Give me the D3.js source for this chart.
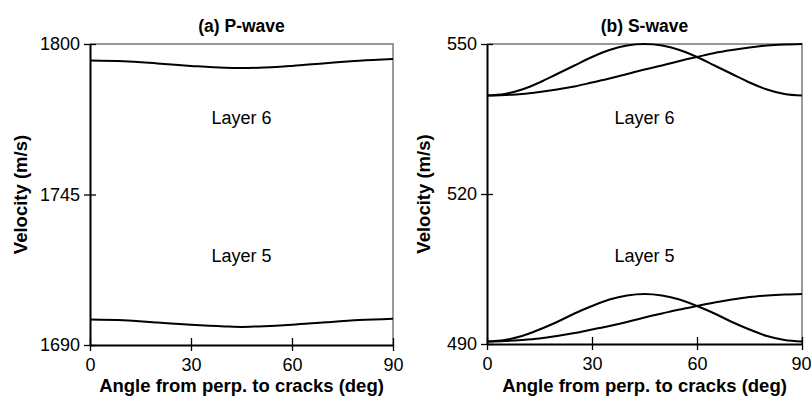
<!DOCTYPE html>
<html>
<head>
<meta charset="utf-8">
<script src="https://cdn.jsdelivr.net/npm/d3@7"></script>
<style>
  body { margin: 0; background: #fff; }
  svg { display: block; font-family: "Liberation Sans", Arial, sans-serif; }
</style>
</head>
<body>
<div id="chart"></div>
<script>
// angles (deg)
var anglesP = [0, 10, 20, 30, 40, 45, 50, 60, 70, 80, 90]
var pLayer6 = [1794.0, 1793.7, 1792.9, 1792.0, 1791.3, 1791.2, 1791.3, 1792.0, 1793.0, 1793.9, 1794.5]
var pLayer5 = [1699.3, 1699.0, 1698.2, 1697.4, 1696.8, 1696.6, 1696.8, 1697.4, 1698.3, 1699.1, 1699.6]

var anglesS = [0, 5, 10, 15, 20, 25, 30, 35, 40, 45, 50, 55, 60, 65, 70, 75, 80, 85, 90]
var sLayer6a = [539.7, 540.0, 540.9, 542.3, 544.0, 545.7, 547.4, 548.8, 549.7, 550.0, 549.7, 548.8, 547.4, 545.7, 544.0, 542.3, 540.9, 540.0, 539.7]
var sLayer6b = [539.7, 539.8, 540.0, 540.4, 540.9, 541.5, 542.3, 543.1, 544.0, 544.9, 545.7, 546.6, 547.4, 548.2, 548.8, 549.3, 549.7, 549.9, 550.0]
var sLayer5a = [490.5, 490.8, 491.6, 492.9, 494.4, 496.1, 497.6, 498.9, 499.7, 500.0, 499.7, 498.9, 497.6, 496.1, 494.4, 492.9, 491.6, 490.8, 490.5]
var sLayer5b = [490.5, 490.6, 490.8, 491.1, 491.6, 492.2, 492.9, 493.6, 494.4, 495.3, 496.1, 496.9, 497.6, 498.3, 498.9, 499.4, 499.7, 499.9, 500.0]

var xTicks = [0, 30, 60, 90]
var pTicks = [1690, 1745, 1800]
var sTicks = [490, 520, 550]

var width = 811, height = 398

var svg = d3.select("#chart").append("svg")
    .attr("width", width)
    .attr("height", height)

function drawPanel(opts) {
    var x = d3.scaleLinear().domain([0, 90]).range([opts.left, opts.right])
    var y = d3.scaleLinear().domain(opts.yDomain).range([opts.bottom, opts.top])

    var g = svg.append("g")

    // grey frame on top and right
    g.append("path")
        .attr("d", "M" + opts.left + "," + opts.top + "H" + opts.right + "V" + opts.bottom)
        .attr("fill", "none")
        .attr("stroke", "#999")
        .attr("stroke-width", 2)

    var line = d3.line()
        .x(function (d) { return x(d[0]) })
        .y(function (d) { return y(d[1]) })
        .curve(d3.curveMonotoneX)

    opts.series.forEach(function (s) {
        g.append("path")
            .datum(d3.zip(s.angles, s.values))
            .attr("d", line)
            .attr("fill", "none")
            .attr("stroke", "#000")
            .attr("stroke-width", 2)
    })

    var axisX = d3.axisBottom(x).tickValues(xTicks).tickFormat(d3.format("d")).tickSizeOuter(0)
    var axisY = d3.axisLeft(y).tickValues(opts.yTicks).tickFormat(d3.format("d")).tickSizeOuter(0)

    var gx = g.append("g")
        .attr("transform", "translate(0," + opts.bottom + ")")
        .call(axisX)
    gx.selectAll(".tick line").attr("y1", 6).attr("y2", -7)
    gx.selectAll(".tick text").attr("y", 13).attr("dy", "0.71em")
    // keep the last label inside the page
    if (opts.right + 10 > width) {
        gx.selectAll(".tick text").filter(function (d) { return d == 90 })
            .attr("dx", -(opts.right + 10 - width))
    }

    var gy = g.append("g")
        .attr("transform", "translate(" + opts.left + ",0)")
        .call(axisY)
    gy.selectAll(".tick line").attr("x1", -6).attr("x2", 6)
    gy.selectAll(".tick text").attr("x", -10)

    ;[gx, gy].forEach(function (a) {
        a.select(".domain").attr("stroke", "#000").attr("stroke-width", 2)
        a.selectAll(".tick line").attr("stroke", "#000").attr("stroke-width", 1.3)
        a.selectAll(".tick text")
            .attr("fill", "#000")
            .style("font-size", "18px")
            .style("font-family", "'Liberation Sans', Arial, sans-serif")
    })

    var cx = (opts.left + opts.right) / 2

    g.append("text")
        .attr("x", cx)
        .attr("y", 31.5)
        .attr("text-anchor", "middle")
        .style("font-size", "17.5px")
        .style("font-weight", "bold")
        .text(opts.title)

    g.append("text")
        .attr("x", cx)
        .attr("y", 391.5)
        .attr("text-anchor", "middle")
        .style("font-size", "18.5px")
        .style("font-weight", "bold")
        .text("Angle from perp. to cracks (deg)")

    g.append("text")
        .attr("transform", "translate(" + opts.yLabelX + "," + ((opts.top + opts.bottom) / 2) + ") rotate(-90)")
        .attr("text-anchor", "middle")
        .style("font-size", "18.5px")
        .style("font-weight", "bold")
        .text("Velocity (m/s)")

    opts.labels.forEach(function (l) {
        g.append("text")
            .attr("x", cx)
            .attr("y", l.y)
            .attr("text-anchor", "middle")
            .style("font-size", "18px")
            .text(l.text)
    })
}

drawPanel({
    left: 90, right: 393, top: 44, bottom: 345,
    yDomain: [1690, 1800], yTicks: pTicks,
    title: "(a) P-wave", yLabelX: 27,
    series: [
        { angles: anglesP, values: pLayer6 },
        { angles: anglesP, values: pLayer5 }
    ],
    labels: [{ text: "Layer 6", y: 124 }, { text: "Layer 5", y: 262 }]
})

drawPanel({
    left: 487, right: 802, top: 44, bottom: 344,
    yDomain: [490, 550], yTicks: sTicks,
    title: "(b) S-wave", yLabelX: 430,
    series: [
        { angles: anglesS, values: sLayer6a },
        { angles: anglesS, values: sLayer6b },
        { angles: anglesS, values: sLayer5a },
        { angles: anglesS, values: sLayer5b }
    ],
    labels: [{ text: "Layer 6", y: 124 }, { text: "Layer 5", y: 262 }]
})
</script>
</body>
</html>
